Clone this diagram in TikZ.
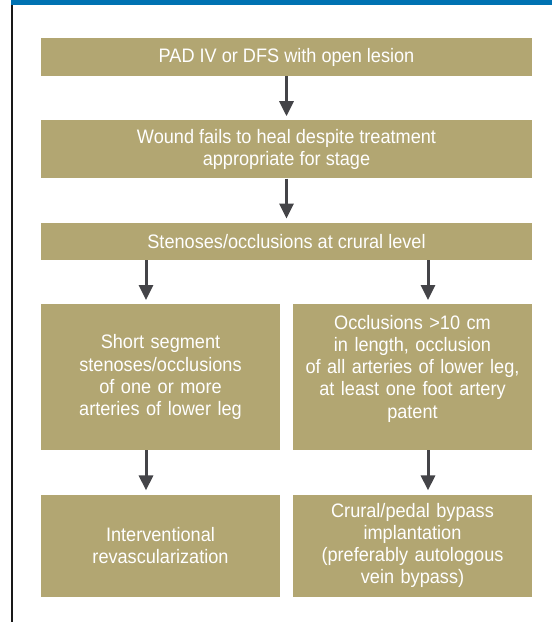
\documentclass[tikz,border=0pt]{standalone}
\usepackage{fontspec}
\setmainfont[FakeStretch=0.93]{Liberation Sans}
\usetikzlibrary{arrows.meta, positioning}
\definecolor{boxtan}{RGB}{178,166,114}
\definecolor{barblue}{RGB}{0,114,178}
\definecolor{arrowgray}{RGB}{68,68,72}

\begin{document}
\begin{tikzpicture}[x=1pt, y=-1pt, node distance=44pt,
    box/.style={fill=boxtan, text=white, align=center, inner sep=0pt,
      font=\fontsize{19.5}{22.2}\selectfont},
    wide/.style={box, minimum width=491pt},
    half/.style={box, minimum width=239pt, text width=232pt},
    arr/.style={draw=arrowgray, line width=3pt, shorten >=4pt,
      -{Triangle[width=14pt,length=15pt]}}]
  \useasboundingbox (0,0) rectangle (552,622);
  % frame
  \fill[barblue] (11,0) rectangle (552,5);
  \draw[line width=2pt, black!90] (12,5) -- (12,622);
  % main column
  \node[wide, minimum height=38pt] (pad) at (286.5,57) {PAD IV or DFS with open lesion};
  \node[wide, minimum height=58pt, below=of pad] (heal)
    {Wound fails to heal despite treatment\\appropriate for stage};
  \node[wide, minimum height=37pt, below=of heal] (crural)
    {Stenoses/occlusions at crural level};
  % two branches
  \node[half, minimum height=146pt, below right=44pt and 0pt of crural.south west] (short)
    {Short segment\\stenoses/occlusions\\of one or more\\arteries of lower leg};
  \node[half, minimum height=146pt, text depth=110pt, below left=44pt and 0pt of crural.south east] (long)
    {Occlusions >10 cm\\in length, occlusion\\of all arteries of lower leg,\\at least one foot artery\\patent};
  \node[half, minimum height=102pt, below=of short] (interv)
    {Interventional\\revascularization};
  \node[half, minimum height=102pt, below=of long] (bypass)
    {Crural/pedal bypass\\implantation\\(preferably autologous\\vein bypass)};
  \draw[arr] (pad) -- (heal);
  \draw[arr] (heal) -- (crural);
  \draw[arr] ([xshift=-14.5pt]short.north |- crural.south) -- ([xshift=-14.5pt]short.north);
  \draw[arr] ([xshift=15.5pt]long.north |- crural.south) -- ([xshift=15.5pt]long.north);
  \draw[arr] ([xshift=-14.5pt]short.south) -- ([xshift=-14.5pt]interv.north);
  \draw[arr] ([xshift=15.5pt]long.south) -- ([xshift=15.5pt]bypass.north);
\end{tikzpicture}
\end{document}
